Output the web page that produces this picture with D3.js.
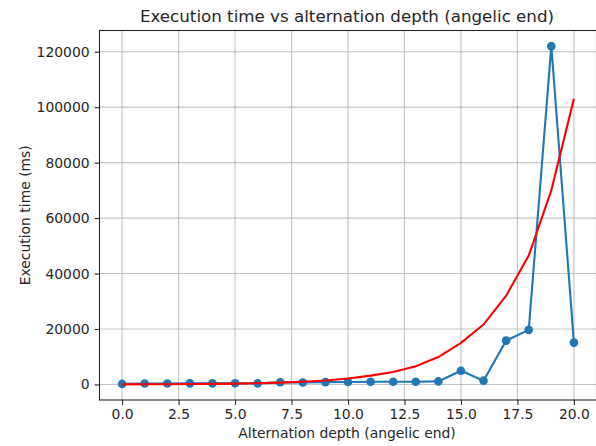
<!DOCTYPE html>
<html>
<head>
<meta charset="utf-8">
<script src="https://cdn.jsdelivr.net/npm/d3@7"></script>
<style>
  body { margin: 0; background: #fff; }
  svg text { font-family: "DejaVu Sans", sans-serif; fill: #262626; }
</style>
</head>
<body>
<svg width="596" height="446"></svg>
<script>
const depths = [0, 1, 2, 3, 4, 5, 6, 7, 8, 9, 10, 11, 12, 13, 14, 15, 16, 17, 18, 19, 20];
const measured = [200, 350, 350, 400, 400, 450, 400, 800, 700, 850, 900, 1000, 1000, 1000, 1100, 4970, 1370, 15800, 19700, 122000, 15100];
const fitted = [45, 65, 100, 145, 210, 310, 460, 680, 1000, 1450, 2150, 3200, 4500, 6600, 9900, 15000, 21600, 32000, 46500, 70000, 103000];
const xTicks = [0, 2.5, 5, 7.5, 10, 12.5, 15, 17.5, 20];
const yTicks = [0, 20000, 40000, 60000, 80000, 100000, 120000];

const margin = { top: 30.5, right: 0, bottom: 46, left: 99.5 };
const width = 596.5 - margin.left;
const height = 400 - margin.top;

const svg = d3.select("svg");
const g = svg.append("g").attr("transform", `translate(${margin.left},${margin.top})`);

const x = d3.scaleLinear().domain([-1, 21]).range([0, width]);
const y = d3.scaleLinear().domain([-5600, 127650]).range([height, 0]);

// grid
g.append("g").selectAll("line").data(xTicks).join("line")
  .attr("x1", d => x(d)).attr("x2", d => x(d))
  .attr("y1", 0).attr("y2", height)
  .attr("stroke", "#b0b0b0").attr("stroke-opacity", 0.75).attr("stroke-width", 1.1);
g.append("g").selectAll("line").data(yTicks).join("line")
  .attr("x1", 0).attr("x2", width)
  .attr("y1", d => y(d)).attr("y2", d => y(d))
  .attr("stroke", "#b0b0b0").attr("stroke-opacity", 0.75).attr("stroke-width", 1.1);

// axes
const xAxis = g.append("g").attr("transform", `translate(0,${height})`)
  .call(d3.axisBottom(x).tickValues(xTicks).tickFormat(d3.format(".1f")).tickSizeOuter(0).tickSize(4.9).tickPadding(4.5));
const yAxis = g.append("g")
  .call(d3.axisLeft(y).tickValues(yTicks).tickFormat(d => d).tickSizeOuter(0).tickSize(4.9).tickPadding(5));
[xAxis, yAxis].forEach(a => {
  a.selectAll("text").style("font-size", "13.9px").attr("fill", "#262626");
  a.selectAll("line").attr("stroke", "#262626").attr("stroke-width", 1.1);
  a.select(".domain").remove();
});

// spines
g.append("rect").attr("width", width).attr("height", height)
  .attr("fill", "none").attr("stroke", "#262626").attr("stroke-width", 1.1);

// measured series
const line = d3.line().x((d, i) => x(depths[i])).y(d => y(d));
g.append("path").datum(measured).attr("d", line)
  .attr("fill", "none").attr("stroke", "#1f77b4").attr("stroke-width", 2.1);
g.append("g").selectAll("circle").data(measured).join("circle")
  .attr("cx", (d, i) => x(depths[i])).attr("cy", d => y(d)).attr("r", 4.3)
  .attr("fill", "#1f77b4");

// fitted curve
g.append("path").datum(fitted).attr("d", line)
  .attr("fill", "none").attr("stroke", "#ff0000").attr("stroke-width", 2.1);

// labels
svg.append("text").attr("x", margin.left + width / 2 - 1).attr("y", 22)
  .attr("text-anchor", "middle").style("font-size", "16.7px")
  .text("Execution time vs alternation depth (angelic end)");
svg.append("text").attr("x", margin.left + width / 2 - 1).attr("y", 438)
  .attr("text-anchor", "middle").style("font-size", "13.9px")
  .text("Alternation depth (angelic end)");
svg.append("text").attr("transform", `translate(29.5,${margin.top + height / 2}) rotate(-90)`)
  .attr("text-anchor", "middle").style("font-size", "13.9px")
  .text("Execution time (ms)");
</script>
</body>
</html>
